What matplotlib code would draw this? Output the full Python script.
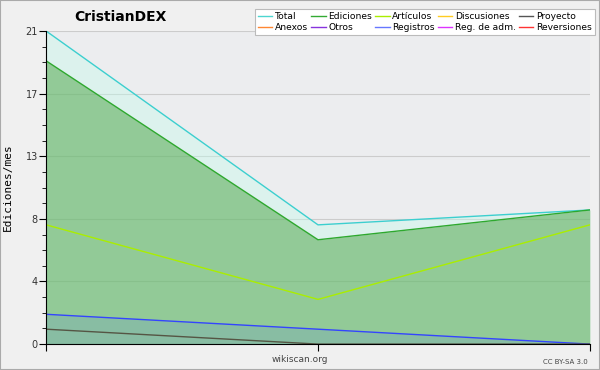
import matplotlib
matplotlib.use("Agg")
import matplotlib.pyplot as plt
from matplotlib.patches import Rectangle
from matplotlib.ticker import MultipleLocator, FuncFormatter

# datos
meses = [0, 1, 2]
total = [21, 8, 9]
ediciones = [19, 7, 9]
articulos = [8, 3, 8]
registros = [2, 1, 0]
proyecto = [1, 0, 0]

series = [
    ("Total", "#4dd6d0"), ("Ediciones", "#33aa33"), ("Artículos", "#aaee00"),
    ("Discusiones", "#ffcc22"), ("Proyecto", "#555555"),
    ("Anexos", "#ff8833"), ("Otros", "#8833dd"), ("Registros", "#6677ff"),
    ("Reg. de adm.", "#dd33ff"), ("Reversiones", "#ff3333"),
]

fig = plt.figure(figsize=(6, 3.7), dpi=100, facecolor="#f0f0f0")
fig.patches.append(Rectangle((0, 0), 1, 1, transform=fig.transFigure,
                             fill=False, edgecolor="#aaaaaa", lw=1.5))
ax = fig.add_axes([0.077, 0.07, 0.906, 0.846])
ax.set_facecolor("#ecedef")

ax.fill_between(meses, 0, total, color="#c4fcec", alpha=0.4, lw=0, zorder=1)
ax.fill_between(meses, 0, ediciones, color="#4aa342", alpha=0.5, lw=0, zorder=2)
ax.fill_between(meses, 0, registros, color="#4466ff", alpha=0.12, lw=0, zorder=3)

ax.plot(meses, total, color="#3ccfcf", lw=1, zorder=5)
ax.plot(meses, ediciones, color="#2ea82e", lw=1, zorder=5)
ax.plot(meses, articulos, color="#aaee00", lw=1, zorder=5)
ax.plot(meses, registros, color="#3344ff", lw=1, zorder=5)
ax.plot(meses, proyecto, color="#555544", lw=1, zorder=5)

ax.set_xlim(0, 2)
ax.set_ylim(0, 21)
ax.set_xticks(meses)
ax.set_xticklabels([])
ax.yaxis.set_major_locator(MultipleLocator(4.2))
ax.yaxis.set_minor_locator(MultipleLocator(1.05))
ax.yaxis.set_major_formatter(FuncFormatter(lambda v, p: "%d" % round(v)))
ax.set_axisbelow(True)
ax.grid(axis="y", color="#cccccc", lw=0.8)
ax.tick_params(axis="y", which="major", length=5, labelsize=7, colors="black",
               labelcolor="#333333", pad=1)
ax.tick_params(axis="y", which="minor", length=3)
ax.tick_params(axis="x", length=5)
for s in ["top", "right"]:
    ax.spines[s].set_visible(False)
for s in ["left", "bottom"]:
    ax.spines[s].set_zorder(6)

ax.set_ylabel("Ediciones/mes", fontsize=8, family="DejaVu Sans Mono", labelpad=9)

fig.text(0.2, 0.955, "CristianDEX", fontsize=10, fontweight="bold", ha="center", va="center")
fig.text(0.5, 0.028, "wikiscan.org", fontsize=6.5, color="#444444", ha="center", va="center")
fig.text(0.98, 0.022, "CC BY-SA 3.0", fontsize=5, color="#444444", ha="right", va="center")

# la leyenda se llena por columnas: reordenar para que quede por filas
orden = [0, 5, 1, 6, 2, 7, 3, 8, 4, 9]
handles = [plt.Line2D([], [], color=series[i][1], lw=1) for i in orden]
labels = [series[i][0] for i in orden]
leg = fig.legend(handles, labels, ncol=5, loc="upper right",
                 bbox_to_anchor=(0.992, 0.975), fontsize=6.6, frameon=True,
                 fancybox=False, edgecolor="#bbbbbb", framealpha=1,
                 handlelength=1.6, handletextpad=0.3, columnspacing=0.3,
                 labelspacing=0.15, borderpad=0.35, borderaxespad=0)
leg.get_frame().set_linewidth(0.8)

fig.savefig("out.png", dpi=100, facecolor=fig.get_facecolor())
